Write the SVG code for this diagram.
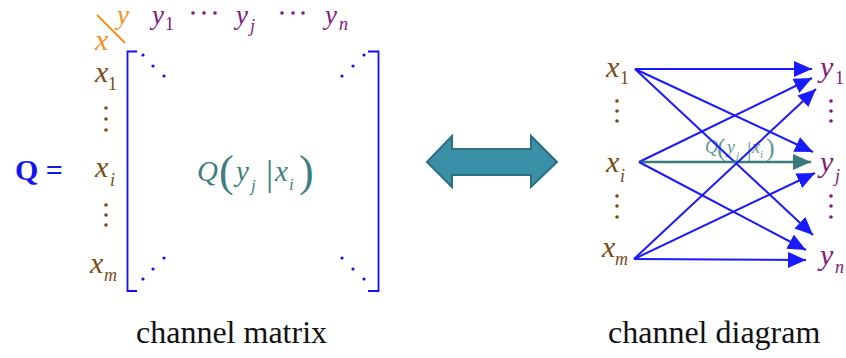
<svg xmlns="http://www.w3.org/2000/svg" width="846" height="358" viewBox="0 0 846 358">
<style>
.v{font-family:"Liberation Serif","Times New Roman",serif;font-style:italic;font-size:30px}
.t{font-size:27px}
.s{font-size:18px}
.up{font-style:normal}
.br{fill:#7b4a14}
.pu{fill:#7f1a80}
.or{fill:#f7901e}
.tl{fill:#3d7f7f}
.cap{font-family:"Liberation Serif","Times New Roman",serif;font-size:32px;fill:#111}
.bd{fill:#7b4a14}
.pd{fill:#7f1a80}
.md{fill:#1010ff}
.con{stroke:#1a1aff;stroke-width:2;fill:none;marker-end:url(#ab)}
</style>
<defs>
<marker id="ab" viewBox="0 0 18 16" refX="18" refY="8" markerWidth="18" markerHeight="16" markerUnits="userSpaceOnUse" orient="auto"><path d="M0,0 L18,8 L0,16 z" fill="#1a1aff"/></marker>
<marker id="at" viewBox="0 0 18 16" refX="18" refY="8" markerWidth="18" markerHeight="16" markerUnits="userSpaceOnUse" orient="auto"><path d="M0,0 L18,8 L0,16 z" fill="#3a7a7a"/></marker>
</defs>

<g id="matrix">
<text x="15" y="180" style="font-family:'Liberation Serif',serif;font-weight:bold;font-size:30px;fill:#1515f0">Q =</text>
<line x1="97" y1="15" x2="125" y2="43" stroke="#f7901e" stroke-width="2"/>
<text class="v or" x="95" y="50">x</text>
<text class="v or t" x="117" y="24">y</text>
<text class="v pu t" x="152" y="24">y<tspan class="s up" x="165" y="30">1</tspan></text>
<text class="v pu t" x="236" y="24">y<tspan class="s" x="250" y="32">j</tspan></text>
<text class="v pu t" x="325" y="24">y<tspan class="s" x="339" y="30">n</tspan></text>
<g class="pd">
<circle cx="193" cy="13" r="1.8"/><circle cx="204" cy="13" r="1.8"/><circle cx="215" cy="13" r="1.8"/>
<circle cx="282" cy="13" r="1.8"/><circle cx="293" cy="13" r="1.8"/><circle cx="303" cy="13" r="1.8"/>
</g>
<text class="v br" x="95" y="82">x<tspan class="s up" x="108" y="90">1</tspan></text>
<text class="v br" x="95" y="177">x<tspan class="s" x="110" y="186">i</tspan></text>
<text class="v br" x="90" y="273">x<tspan class="s" x="104" y="281">m</tspan></text>
<g class="bd">
<circle cx="106" cy="108" r="1.8"/><circle cx="106" cy="119" r="1.8"/><circle cx="106" cy="130" r="1.8"/>
<circle cx="106" cy="205" r="1.8"/><circle cx="106" cy="215" r="1.8"/><circle cx="106" cy="225" r="1.8"/>
</g>
<path d="M137,51.5 H127.5 V291 H137 M368,51.5 H378.5 V291 H368" stroke="#1010ff" stroke-width="1.8" fill="none"/>
<g class="md">
<circle cx="143" cy="55" r="1.6"/><circle cx="153" cy="66" r="1.6"/><circle cx="164" cy="76" r="1.6"/>
<circle cx="342" cy="76" r="1.6"/><circle cx="353" cy="66" r="1.6"/><circle cx="364" cy="55" r="1.6"/>
<circle cx="143" cy="279" r="1.6"/><circle cx="153" cy="269" r="1.6"/><circle cx="164" cy="258" r="1.6"/>
<circle cx="342" cy="258" r="1.6"/><circle cx="353" cy="269" r="1.6"/><circle cx="364" cy="279" r="1.6"/>
</g>
<text class="v tl" style="font-size:29px" x="197" y="181">Q<tspan class="up" style="font-size:44px" x="219" y="186">(</tspan><tspan x="236" y="181">y</tspan><tspan style="font-size:17px" x="251" y="191">j</tspan><tspan class="up" style="font-size:36px" x="266" y="185">|</tspan><tspan x="275" y="181">x</tspan><tspan style="font-size:17px" x="289" y="190">i</tspan><tspan class="up" style="font-size:44px" x="299" y="186">)</tspan></text>
<text class="cap" x="136" y="343">channel matrix</text>
</g>

<g id="double-arrow">
<polygon points="427,162 452,136 452,149 531,149 531,136 557,162 531,187 531,175 452,175 452,187" fill="#3a90a6" stroke="#2b6f80" stroke-width="2" stroke-linejoin="miter"/>
</g>

<g id="x-nodes">
<text class="v br" x="606" y="77">x<tspan class="s up" x="620" y="84">1</tspan></text>
<text class="v br" x="606" y="172">x<tspan class="s" x="620" y="182">i</tspan></text>
<text class="v br" x="602" y="257">x<tspan class="s" x="615" y="265">m</tspan></text>
<g class="bd">
<circle cx="617" cy="101" r="1.8"/><circle cx="617" cy="111" r="1.8"/><circle cx="617" cy="121" r="1.8"/>
<circle cx="617" cy="196" r="1.8"/><circle cx="617" cy="206" r="1.8"/><circle cx="617" cy="217" r="1.8"/>
</g>
</g>

<g id="y-nodes">
<text class="v pu" x="820" y="77">y<tspan class="s up" x="835" y="84">1</tspan></text>
<text class="v pu" x="820" y="172">y<tspan class="s" x="835" y="182">j</tspan></text>
<text class="v pu" x="820" y="265">y<tspan class="s" x="835" y="273">n</tspan></text>
<g class="pd">
<circle cx="831" cy="101" r="1.8"/><circle cx="831" cy="111" r="1.8"/><circle cx="831" cy="121" r="1.8"/>
<circle cx="831" cy="196" r="1.8"/><circle cx="831" cy="206" r="1.8"/><circle cx="831" cy="217" r="1.8"/>
</g>
</g>

<g id="edge-label">
<text class="v" style="font-size:18px;fill:#5f9a9a" x="705" y="153">Q<tspan class="up" style="font-size:26px" x="717" y="156">(</tspan><tspan x="727" y="153">y</tspan><tspan style="font-size:11px" x="736" y="159">j</tspan><tspan class="up" style="font-size:22px" x="747" y="156">|</tspan><tspan x="752" y="153">x</tspan><tspan style="font-size:11px" x="760" y="158">i</tspan><tspan class="up" style="font-size:26px" x="766" y="156">)</tspan></text>
</g>

<g id="connectors">
<line class="con" x1="635" y1="69" x2="812" y2="69"/>
<line class="con" x1="635" y1="69" x2="813" y2="152"/>
<line class="con" x1="635" y1="69" x2="813" y2="235"/>
<line class="con" x1="639" y1="162" x2="812" y2="78"/>
<line x1="639" y1="162" x2="811" y2="162" stroke="#3a7a7a" stroke-width="2.5" marker-end="url(#at)"/>
<line class="con" x1="639" y1="162" x2="806" y2="250"/>
<line class="con" x1="634" y1="259" x2="816" y2="89"/>
<line class="con" x1="634" y1="259" x2="815" y2="173"/>
<line class="con" x1="634" y1="259" x2="806" y2="260"/>
</g>

<text class="cap" x="608" y="343">channel diagram</text>
</svg>
